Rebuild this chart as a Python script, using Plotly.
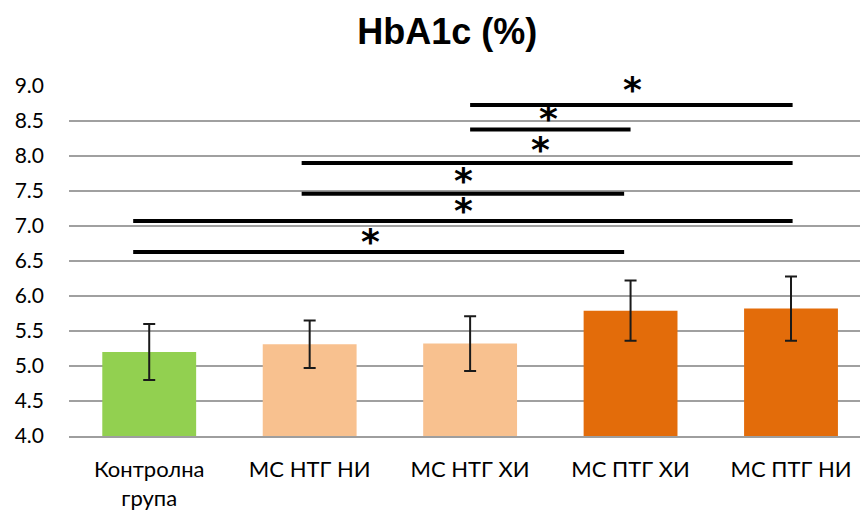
import plotly.graph_objects as go

# ---- data ----
categories = ["Контролна<br>група", "МС НТГ НИ", "МС НТГ ХИ", "МС ПТГ ХИ", "МС ПТГ НИ"]
means = [5.20, 5.31, 5.32, 5.79, 5.82]
sd = [0.40, 0.34, 0.39, 0.43, 0.46]
bar_colors = ["#92D050", "#F8C18F", "#F8C18F", "#E36C0A", "#E36C0A"]

# significance brackets (in category units) and their asterisks
sig_x0 = [-0.10, -0.10, 0.95, 0.95, 2.00, 2.00]
sig_x1 = [2.96, 4.01, 2.96, 4.01, 3.00, 4.01]
sig_y = [6.63, 7.07, 7.46, 7.90, 8.38, 8.73]
star_x = [1.38, 1.96, 1.96, 2.44, 2.49, 3.01]
star_y = [6.82, 7.26, 7.69, 8.14, 8.58, 9.00]
star_text = ["*", "*", "*", "*", "*", "*"]

y_ticks = [4.0, 4.5, 5.0, 5.5, 6.0, 6.5, 7.0, 7.5, 8.0, 8.5, 9.0]

fig = go.Figure()
fig.add_trace(go.Bar(
    x=list(range(len(categories))), y=means, width=0.585,
    marker=dict(color=bar_colors, line=dict(width=0)),
    error_y=dict(type="data", array=sd, visible=True, color="#1a1a1a",
                 thickness=2, width=6),
    hoverinfo="skip", showlegend=False,
))

for x0, x1, y in zip(sig_x0, sig_x1, sig_y):
    fig.add_trace(go.Scatter(x=[x0, x1], y=[y, y], mode="lines",
                             line=dict(color="black", width=4),
                             showlegend=False, hoverinfo="skip", cliponaxis=False))

for sx, sy, st in zip(star_x, star_y, star_text):
    fig.add_annotation(x=sx, y=sy, xref="x", yref="y", text=st, showarrow=False,
                       xanchor="center", yanchor="middle", yshift=-3,
                       font=dict(family="DejaVu Sans", size=36, color="black",
                                 weight="bold"))

fig.update_layout(
    width=860, height=516,
    margin=dict(l=69, r=0, t=86, b=80),
    paper_bgcolor="white", plot_bgcolor="white",
    title=dict(text="<b>HbA1c (%)</b>", x=0.52, xanchor="center", y=0.94, yanchor="middle",
               font=dict(family="Liberation Sans", size=36, color="black")),
)
fig.update_xaxes(
    range=[-0.5, 4.43], tickvals=list(range(len(categories))), ticktext=categories,
    showgrid=False, zeroline=False, showline=True, linecolor="#9E9E9E", linewidth=2,
    layer="above traces", ticks="", ticklabelstandoff=13,
    tickfont=dict(family="Lato", size=22, color="black"),
)
fig.update_yaxes(
    range=[4.0, 9.0], tickvals=y_ticks, ticktext=[f"{v:.1f}" for v in y_ticks],
    showgrid=True, gridcolor="#A0A0A0", gridwidth=1.5, zeroline=False,
    showline=False, ticks="", ticklabelstandoff=24,
    tickfont=dict(family="Lato", size=21, color="black"),
)

fig.write_html("out.html")
